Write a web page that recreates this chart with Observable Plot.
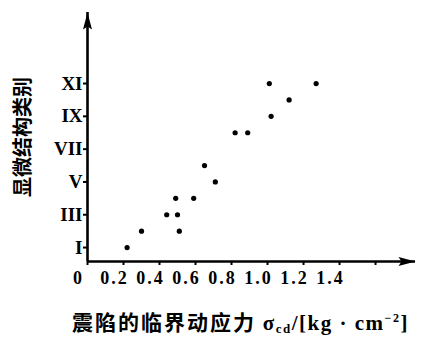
<!DOCTYPE html>
<html><head><meta charset="utf-8">
<script src="https://cdn.jsdelivr.net/npm/d3@7"></script>
<script src="https://cdn.jsdelivr.net/npm/@observablehq/plot@0.6"></script>
<style>
body{margin:0;background:#fff;}
#chart svg{display:block;}
#chart g[aria-label="x-axis tick label"] text{letter-spacing:2px;}
#xt{margin-top:9px;padding-left:72px;font-family:"Noto Sans CJK SC";font-weight:bold;font-size:21px;letter-spacing:2px;line-height:24px;color:#000;white-space:nowrap;}
#xt .m{font-family:"Liberation Serif";font-size:21px;letter-spacing:1.5px;}
#xt sub{font-size:13px;vertical-align:-3px;line-height:0;}
#xt sup{font-size:12px;vertical-align:8px;line-height:0;}
</style></head><body>
<div id="chart"></div>
<div id="xt">震陷的临界动应力 <span class="m">σ<sub>cd</sub>/[kg · cm<sup>−2</sup>]</span></div>
<script>
const stress   = [0.22, 0.30, 0.44, 0.49, 0.50, 0.51, 0.59, 0.65, 0.71, 0.82, 0.89, 1.01, 1.02, 1.12, 1.27];
const category = [1,    2,    3,    4,    3,    2,    4,    6,    5,    8,    8,    11,   9,    10,   11];
const xTicks = [0, 0.2, 0.4, 0.6, 0.8, 1.0, 1.2, 1.4, 1.6];
const xTickLabels = ["0", "0.2", "0.4", "0.6", "0.8", "1.0", "1.2", "1.4", ""];
const yTicks = [1, 3, 5, 7, 9, 11];
const yTickLabels = ["I", "III", "V", "VII", "IX", "XI"];
const yTitle = "显微结构类别";

const data = stress.map((s, i) => ({s, c: category[i]}));
const xDom = [0, 1.822], yDom = [0.15, 15.33];
const arrowHead = {draw(ctx){ctx.moveTo(0,0);ctx.lineTo(4.5,17);ctx.lineTo(0,14);ctx.lineTo(-4.5,17);ctx.closePath();}};

const chart = Plot.plot({
  width: 424, height: 300,
  marginLeft: 87, marginRight: 9, marginTop: 12, marginBottom: 39,
  x: {domain: xDom}, y: {domain: yDom},
  style: {background: "#fff", color: "#000"},
  marks: [
    Plot.axisX({ticks: xTicks, tickFormat: d => xTickLabels[xTicks.indexOf(d)], tickSize: 0, tickPadding: 10,
      dx: -9, fontSize: 18, fontWeight: "bold", fontFamily: "Liberation Serif", label: null}),
    Plot.axisX({ticks: xTicks, tickSize: 4, tickFormat: () => "", strokeWidth: 2, label: null}),
    Plot.axisY({ticks: yTicks, tickFormat: d => yTickLabels[yTicks.indexOf(d)], tickSize: 4, tickPadding: 1,
      strokeWidth: 2, fontSize: 19, fontWeight: "bold", fontFamily: "Liberation Serif", label: null}),
    Plot.ruleY([yDom[0]], {strokeWidth: 2.6}),
    Plot.ruleX([xDom[0]], {strokeWidth: 2.6}),
    Plot.dot(data, {x: "s", y: "c", r: 2.6, fill: "#000", stroke: null}),
    Plot.dot([{x: xDom[0], y: yDom[1], r: 0}, {x: xDom[1], y: yDom[0], r: 90}],
      {x: "x", y: "y", rotate: "r", symbol: arrowHead, fill: "#000", stroke: null}),
    Plot.text([yTitle], {frameAnchor: "left", dx: -64, rotate: -90, textAnchor: "middle", fontSize: 20, fontWeight: "bold",
      fontFamily: "Noto Sans CJK SC", fill: "#000"})
  ]
});
document.getElementById("chart").appendChild(chart);
</script>
</body></html>
